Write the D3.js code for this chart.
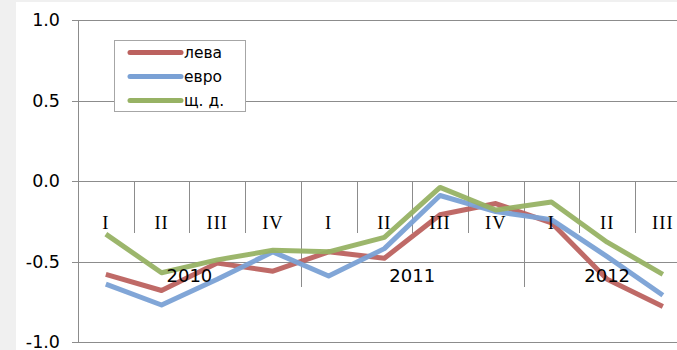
<!DOCTYPE html>
<html>
<head>
<meta charset="utf-8">
<script src="https://cdn.jsdelivr.net/npm/d3@7"></script>
<style>
  body { margin: 0; background: #f0f0f0; }
  svg { display: block; }
</style>
</head>
<body>
<svg id="chart"></svg>
<script>
const quarters = ["I", "II", "III", "IV", "I", "II", "III", "IV", "I", "II", "III"];
const years = [
    {label: "2010", start: 0, end: 4},
    {label: "2011", start: 4, end: 8},
    {label: "2012", start: 8, end: 11}
];
const leva = [-0.58, -0.68, -0.51, -0.56, -0.44, -0.48, -0.21, -0.14, -0.26, -0.61, -0.78];
const evro = [-0.64, -0.77, -0.61, -0.44, -0.59, -0.42, -0.09, -0.19, -0.24, -0.47, -0.71];
const shtd = [-0.33, -0.57, -0.49, -0.43, -0.44, -0.35, -0.04, -0.18, -0.13, -0.38, -0.58];
const yTicks = [1.0, 0.5, 0.0, -0.5, -1.0];

const series = [
    {name: "лева", values: leva, color: "#bc625f"},
    {name: "евро", values: evro, color: "#7aa1d5"},
    {name: "щ. д.", values: shtd, color: "#97b264"}
];

const W = 677, H = 350;
const plotLeft = 78, plotTop = 20, plotBottom = 342, catW = 55.7;

const svg = d3.select("#chart").attr("width", W).attr("height", H);

svg.append("rect").attr("x", 16).attr("y", 2).attr("width", W - 16).attr("height", H - 2).attr("fill", "#fff");

const x = d3.scaleBand()
    .domain(d3.range(quarters.length))
    .range([plotLeft, plotLeft + catW * quarters.length]);
const y = d3.scaleLinear().domain([-1, 1]).range([plotBottom, plotTop]);

const gridColor = "#8c8c8c";

// horizontal gridlines
svg.append("g")
    .selectAll("line")
    .data(yTicks)
    .enter().append("line")
        .attr("x1", plotLeft - 6)
        .attr("x2", W)
        .attr("y1", d => Math.round(y(d)) + 0.5)
        .attr("y2", d => Math.round(y(d)) + 0.5)
        .attr("stroke", gridColor);

// y axis line
svg.append("line")
    .attr("x1", plotLeft + 0.5).attr("x2", plotLeft + 0.5)
    .attr("y1", plotTop).attr("y2", plotBottom + 1)
    .attr("stroke", gridColor);

svg.append("g")
    .selectAll("text")
    .data(yTicks)
    .enter().append("text")
        .attr("x", 60)
        .attr("y", d => y(d) + 6)
        .attr("text-anchor", "end")
        .style("font-family", "DejaVu Sans, Verdana, sans-serif")
        .style("font-size", "17.5px")
        .attr("fill", "#000")
        .text(d => d.toFixed(1));

// category ticks
const zeroY = Math.round(y(0));
svg.append("g")
    .selectAll("line")
    .data(d3.range(1, quarters.length + 1))
    .enter().append("line")
        .attr("x1", d => Math.round(plotLeft + catW * d) + 0.5)
        .attr("x2", d => Math.round(plotLeft + catW * d) + 0.5)
        .attr("y1", zeroY)
        .attr("y2", zeroY + 52)
        .attr("stroke", gridColor);

svg.append("g")
    .selectAll("line")
    .data(years.slice(1))
    .enter().append("line")
        .attr("x1", d => Math.round(x(d.start)) + 0.5)
        .attr("x2", d => Math.round(x(d.start)) + 0.5)
        .attr("y1", zeroY)
        .attr("y2", zeroY + 106)
        .attr("stroke", gridColor);

// lines
const line = d3.line()
    .x((d, i) => x(i) + x.bandwidth() / 2)
    .y(d => y(d));

svg.append("g")
    .selectAll("path")
    .data(series)
    .enter().append("path")
        .attr("d", d => line(d.values))
        .attr("fill", "none")
        .attr("stroke", d => d.color)
        .attr("stroke-width", 5)
        .attr("stroke-linejoin", "round")
        .attr("stroke-opacity", 0.95);

// category labels
svg.append("g")
    .selectAll("text")
    .data(quarters)
    .enter().append("text")
        .attr("x", (d, i) => x(i) + x.bandwidth() / 2)
        .attr("y", 228.5)
        .attr("text-anchor", "middle")
        .style("font-family", "Liberation Serif, Times New Roman, serif")
        .style("font-size", "18.5px")
        .style("letter-spacing", "1px")
        .text(d => d);

svg.append("g")
    .selectAll("text")
    .data(years)
    .enter().append("text")
        .attr("x", d => (x(d.start) + plotLeft + catW * d.end) / 2)
        .attr("y", 282)
        .attr("text-anchor", "middle")
        .style("font-family", "DejaVu Sans, Verdana, sans-serif")
        .style("font-size", "18px")
        .text(d => d.label);

// legend
const legend = svg.append("g");
legend.append("rect")
    .attr("x", 114.5).attr("y", 40.5)
    .attr("width", 131).attr("height", 71)
    .attr("fill", "#fff")
    .attr("stroke", "#a6a6a6");

const item = legend.selectAll(".item")
    .data(series)
    .enter().append("g")
        .attr("transform", (d, i) => `translate(0,${52.5 + i * 24})`);

item.append("line")
    .attr("x1", 130).attr("x2", 181)
    .attr("stroke", d => d.color)
    .attr("stroke-width", 5)
    .attr("stroke-linecap", "round");

item.append("text")
    .attr("x", 184)
    .attr("y", 5.5)
    .style("font-family", "DejaVu Sans, Verdana, sans-serif")
    .style("font-size", "15.5px")
    .text(d => d.name);
</script>
</body>
</html>
